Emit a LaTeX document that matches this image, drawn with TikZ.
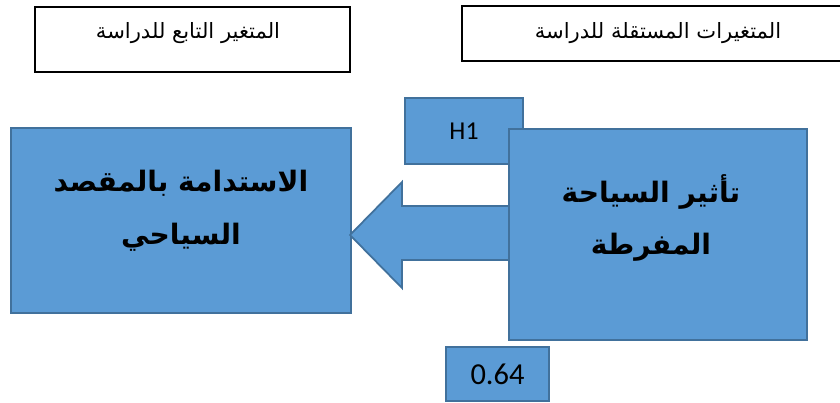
\documentclass[tikz,border=0pt]{standalone}
\usepackage{fontspec}
\newfontfamily\arabicfont[Script=Arabic]{DejaVu Sans}
\setsansfont{Carlito}
\TeXXeTstate=1
\definecolor{boxblue}{HTML}{5B9BD5}
\definecolor{boxedge}{HTML}{41719C}
\tikzset{
  bluebox/.style={draw=boxedge, fill=boxblue, line width=1.5pt, inner sep=0pt},
  labelbox/.style={draw=black, fill=white, inner sep=0pt},
  headtext/.style={font=\arabicfont\fontsize{18}{20}\selectfont},
  bigtext/.style={align=center, font=\arabicfont\bfseries\fontsize{24}{45}\selectfont},
  numtext/.style={font=\sffamily\fontsize{22}{24}\selectfont},
}

\begin{document}
\begin{tikzpicture}[x=0.03cm,y=-0.03cm]
  \useasboundingbox (0,0) rectangle (840,403);
  % header boxes
  \node[labelbox, line width=1.3pt, minimum width=9.45cm, minimum height=1.95cm] (dep) at (192.5,39.5) {};
  \node[headtext] (depText) at (188,33) {\beginR المتغير التابع للدراسة\endR};
  \node[labelbox, line width=2.2pt, minimum width=11.58cm, minimum height=1.65cm] (indep) at (655,33.5) {};
  \node[headtext] (indepText) at (658,33) {\beginR المتغيرات المستقلة للدراسة\endR};
  % dependent variable
  \node[bluebox, minimum width=10.2cm, minimum height=5.55cm] (sustain) at (181,220.5) {};
  \node[bigtext] (sustainText) at (181,211) {\beginR الاستدامة بالمقصد\endR\\\beginR السياحي\endR};
  % block arrow
  \coordinate (tip) at (350,235);
  \draw[bluebox] (tip) -- (402,182) -- (402,206) -- (512,206) -- (512,260) -- (402,260) -- (402,288) -- cycle;
  \node[bluebox, minimum width=3.54cm, minimum height=1.98cm, numtext] (hyp) at (464,131) {H1};
  % independent variable
  \node[bluebox, minimum width=8.94cm, minimum height=6.33cm] (tourism) at (658,234.5) {};
  \node[bigtext] (tourismText) at (651,218) {\beginR تأثير السياحة\endR\\\beginR المفرطة\endR};
  \node[bluebox, minimum width=3.09cm, minimum height=1.62cm, numtext, font=\sffamily\fontsize{26}{28}\selectfont] (coef) at (497.5,374) {0.64};
\end{tikzpicture}
\end{document}
